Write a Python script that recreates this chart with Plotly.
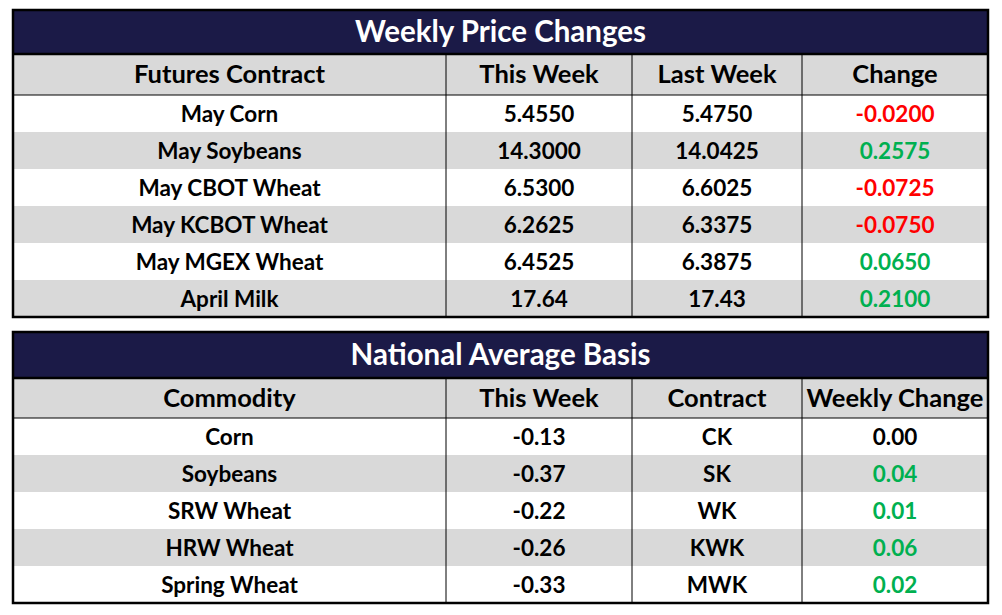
import plotly.graph_objects as go

W, H = 1002, 615
FONT = "Lato"
NAVY = "#1B1A47"
GRAY = "#D9D9D9"
RED = "#FF0000"
GREEN = "#00B050"

# ---- Table 1 data ----
t1_title = "Weekly Price Changes"
t1_headers = ["Futures Contract", "This Week", "Last Week", "Change"]
t1_contracts = ["May Corn", "May Soybeans", "May CBOT Wheat", "May KCBOT Wheat", "May MGEX Wheat", "April Milk"]
t1_this_week = ["5.4550", "14.3000", "6.5300", "6.2625", "6.4525", "17.64"]
t1_last_week = ["5.4750", "14.0425", "6.6025", "6.3375", "6.3875", "17.43"]
t1_change = ["-0.0200", "0.2575", "-0.0725", "-0.0750", "0.0650", "0.2100"]

# ---- Table 2 data ----
t2_title = "National Average Basis"
t2_headers = ["Commodity", "This Week", "Contract", "Weekly Change"]
t2_commodity = ["Corn", "Soybeans", "SRW Wheat", "HRW Wheat", "Spring Wheat"]
t2_this_week = ["-0.13", "-0.37", "-0.22", "-0.26", "-0.33"]
t2_contract = ["CK", "SK", "WK", "KWK", "MWK"]
t2_change = ["0.00", "0.04", "0.01", "0.06", "0.02"]

# ---- layout (pixel units on the axes) ----
col_widths = [433, 186, 170, 186]
X0 = 13
ROW_H = 37
TEXT_DY = 2.5  # optical centring of caps


def change_color(v):
    f = float(v)
    return RED if f < 0 else (GREEN if f > 0 else "black")


edges = [X0]
for w in col_widths:
    edges.append(edges[-1] + w)
X1 = edges[-1]
centers = [(edges[i] + edges[i + 1]) / 2 for i in range(len(col_widths))]

fig = go.Figure()
shapes = []


def rect(x0, x1, y0, y1, fill, layer="below"):
    shapes.append(dict(type="rect", xref="x", yref="y", layer=layer,
                       x0=x0, x1=x1, y0=y0, y1=y1, fillcolor=fill, line=dict(width=0)))


def line(x0, x1, y0, y1, width):
    shapes.append(dict(type="line", xref="x", yref="y", layer="above",
                       x0=x0, x1=x1, y0=y0, y1=y1, line=dict(color="black", width=width)))


def text_trace(xs, ys, texts, size, colors):
    fig.add_trace(go.Scatter(x=xs, y=[y + TEXT_DY for y in ys], text=texts, mode="text",
                             textposition="middle center",
                             textfont=dict(family=FONT, size=size, color=colors, weight="bold"),
                             hoverinfo="skip", showlegend=False, cliponaxis=False))


def add_table(title, headers, columns, change_col, top, title_h, head_h):
    n = len(columns[0])
    title_bottom = top + title_h
    head_bottom = title_bottom + head_h
    bottom = head_bottom + n * ROW_H
    # fills
    rect(X0, X1, top, title_bottom, NAVY)
    rect(X0, X1, title_bottom, head_bottom, GRAY)
    row_tops = [head_bottom + i * ROW_H for i in range(n)]
    for i, rt in enumerate(row_tops):
        rect(X0, X1, rt, rt + ROW_H, "white" if i % 2 == 0 else GRAY)
    # lines
    for xe in edges[1:-1]:
        line(xe, xe, title_bottom, bottom, 1)
    line(X0, X1, head_bottom, head_bottom, 1)
    line(X0, X1, title_bottom, title_bottom, 2.5)
    shapes.append(dict(type="rect", xref="x", yref="y", layer="above",
                       x0=X0, x1=X1, y0=top, y1=bottom, line=dict(color="black", width=2.5)))
    # texts
    text_trace([(X0 + X1) / 2], [top + title_h / 2], [title], 29.5, "white")
    text_trace(centers, [title_bottom + head_h / 2] * len(headers), headers, 25.5, "black")
    row_mid = [rt + ROW_H / 2 for rt in row_tops]
    for j, col in enumerate(columns):
        colors = [change_color(v) for v in col] if j == len(columns) - 1 else "black"
        text_trace([centers[j]] * n, row_mid, col, 22.5, colors)


add_table(t1_title, t1_headers, [t1_contracts, t1_this_week, t1_last_week, t1_change],
          t1_change, 10, 44, 41)
add_table(t2_title, t2_headers, [t2_commodity, t2_this_week, t2_contract, t2_change],
          t2_change, 332, 46, 40)

fig.update_layout(width=W, height=H, margin=dict(l=0, r=0, t=0, b=0),
                  paper_bgcolor="white", plot_bgcolor="white", shapes=shapes,
                  xaxis=dict(range=[0, W], visible=False, fixedrange=True),
                  yaxis=dict(range=[H, 0], visible=False, fixedrange=True))
fig.write_html("out.html", config={"displayModeBar": False},
               post_script="document.body.style.margin='0px';")
